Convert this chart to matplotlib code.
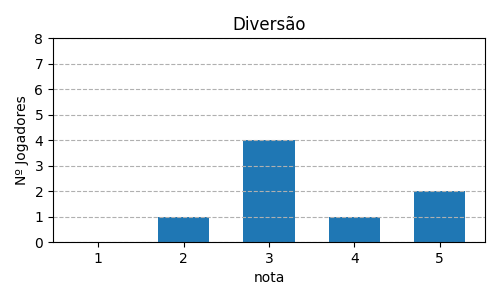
import matplotlib
matplotlib.use("Agg")
import matplotlib.pyplot as plt

# Data
notas = [1, 2, 3, 4, 5]
jogadores = [0, 1, 4, 1, 2]

fig = plt.figure(figsize=(5, 3), dpi=100)
ax = fig.add_axes([0.106, 0.193, 0.864, 0.68])

ax.bar(notas, jogadores, width=0.6, color="#1f77b4")
ax.set_ylim(0, 8)
ax.set_xticks(notas)
ax.set_yticks(range(0, 9))
ax.grid(axis="y", linestyle="--")

ax.set_title("Diversão")
ax.set_xlabel("nota")
ax.set_ylabel("Nº Jogadores")

fig.savefig("out.png", dpi=100)
